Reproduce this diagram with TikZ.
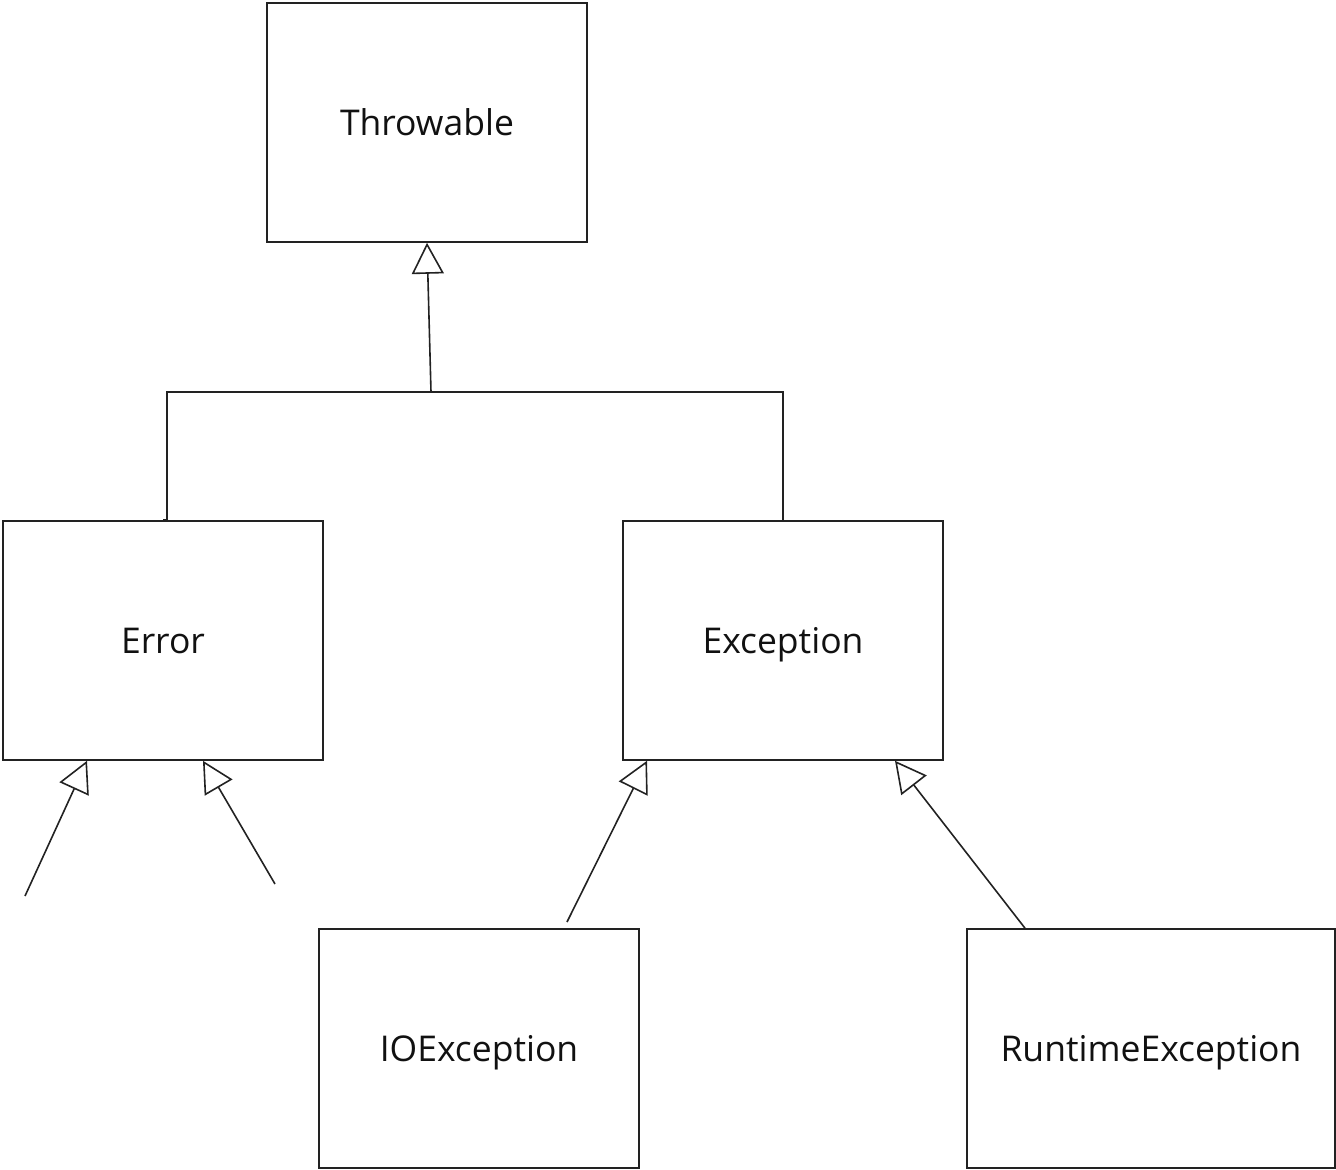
\documentclass[tikz,border=0pt]{standalone}
\usepackage{fontspec}
\setmainfont{Open Sans}
\usetikzlibrary{arrows.meta}
\definecolor{ink}{HTML}{222222}
\definecolor{txt}{HTML}{111111}
\begin{document}
\begin{tikzpicture}[x=1pt,y=-1pt,
  cls/.style={draw=ink, line width=1.6pt, rectangle, minimum width=320pt, minimum height=239pt, inner sep=0pt, text height=25.5pt, text depth=0pt, font=\fontsize{35.5}{42}\selectfont, text=txt},
  inh/.style={draw=ink, line width=1.6pt, -{Triangle[open, length=31pt, width=32pt, line width=1.6pt]}},
  lnk/.style={draw=ink, line width=1.6pt}]
\useasboundingbox (0,0) rectangle (1336,1170);
\clip (0,0) rectangle (1336,1170);
\node[cls] (thr) at (427,122.5) {Throwable};
\node[cls] (err) at (163,640.5) {Error};
\node[cls] (exc) at (783,640.5) {Exception};
\node[cls] (ioe) at (479,1048.5) {IOException};
\node[cls, minimum width=368pt] (rte) at (1151,1048.5) {RuntimeException};
\coordinate (j) at (431,392);
\coordinate (e1) at (167,392);
\coordinate (x1) at (783,392);
\draw[inh] (j) -- (thr.south);
\draw[lnk] (err.north) -- ++(4,0) -- (e1) -- (x1) -- (exc.north);
\coordinate (a1) at (25,896);
\coordinate (a2) at (275,884);
\draw[inh] (a1) -- ([xshift=-76pt]err.south);
\draw[inh] (a2) -- ([xshift=40pt]err.south);
\coordinate (b1) at (567,922);
\draw[inh] (b1) -- ([xshift=-136pt]exc.south);
\draw[inh] ([xshift=-126pt]rte.north) -- ([xshift=112pt]exc.south);
\end{tikzpicture}
\end{document}
